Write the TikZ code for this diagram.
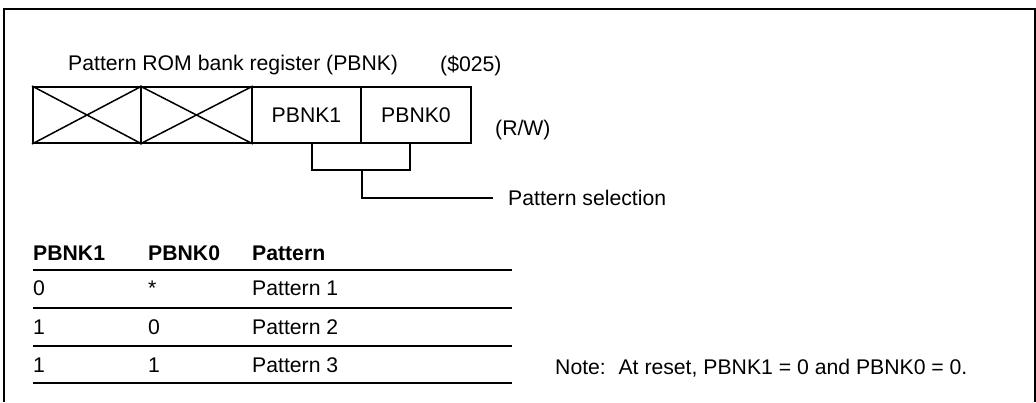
\documentclass[tikz,border=0pt]{standalone}
\usepackage{fontspec}
\setmainfont{Liberation Sans}
\begin{document}
\begin{tikzpicture}[x=1pt,y=-1pt,
  font=\fontsize{21.2}{25}\selectfont,
  cell/.style={draw, line width=2pt, minimum height=56pt, inner sep=0pt, text height=15pt, text depth=0pt},
  txt/.style={inner sep=0pt, text height=15pt, text depth=0pt, anchor=west},
  hd/.style={txt, font=\fontsize{21.2}{25}\selectfont\bfseries},
  rule/.style={line width=2.2pt},
  thinline/.style={line width=1.5pt},
  frame/.style={line width=2pt}]
\useasboundingbox (0,0) rectangle (1036,402);
% frame (open at the bottom)
\draw[frame] (4,402) -- (4,9) -- (1035,9) -- (1035,402);
% title
\node[txt] (title) at (68,63) {Pattern ROM bank register (PBNK)};
\node[txt] (addr) at (440,64) {(\$025)};
% register cells
\node[cell, minimum width=108pt] (c7) at (87,115) {};
\node[cell, minimum width=111pt] (c6) at (196.5,115) {};
\node[cell, minimum width=109pt] (c1) at (306.5,115) {PBNK1};
\node[cell, minimum width=110pt] (c0) at (416,115) {PBNK0};
\draw[thinline] (c7.north west) -- (c7.south east) (c7.south west) -- (c7.north east);
\draw[thinline] (c6.north west) -- (c6.south east) (c6.south west) -- (c6.north east);
\node[txt] (rw) at (495,128) {(R/W)};
% bracket
\draw[thinline] ([xshift=5.5pt]c1.south) -- ++(0,26) -| ([xshift=-6pt]c0.south);
\coordinate (mid) at (362,169);
\node[txt, inner xsep=15pt] (sel) at (493,198) {Pattern selection};
\draw[thinline] (mid) |- (sel.west);
% table
\node[hd] (h1) at (33,253) {PBNK1};
\node[hd] (h0) at (148,253) {PBNK0};
\node[hd] (hp) at (252,253) {Pattern};
\draw[rule] (33,270) -- (512,270);
\node[txt] (a1) at (33,288) {0};
\node[txt] (a0) at (148,288) {*};
\node[txt] (ap) at (252,288) {Pattern 1};
\draw[rule] (33,308) -- (512,308);
\node[txt] (b1) at (33,327) {1};
\node[txt] (b0) at (148,327) {0};
\node[txt] (bp) at (252,327) {Pattern 2};
\draw[rule] (33,346) -- (512,346);
\node[txt] (d1) at (33,365) {1};
\node[txt] (d0) at (148,365) {1};
\node[txt] (dp) at (252,365) {Pattern 3};
\draw[rule] (33,383) -- (512,383);
% note
\node[txt] (note) at (555,367) {Note:\hspace{0.6em}At reset, PBNK1 = 0 and PBNK0 = 0.};
\end{tikzpicture}
\end{document}
